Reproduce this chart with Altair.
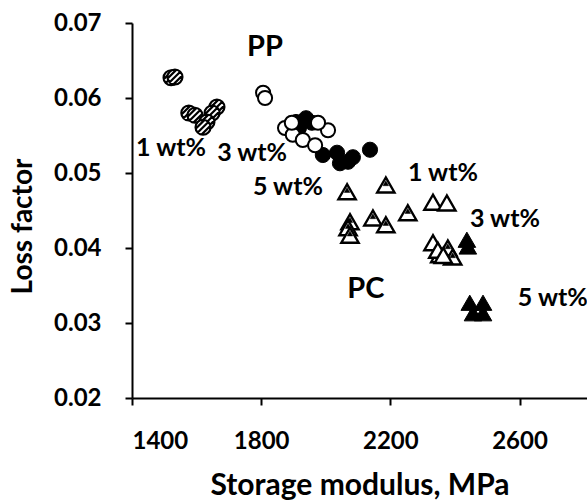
import altair as alt
import pandas as pd

# ---- data ----
pp1_x = [1521, 1533, 1576, 1595, 1663, 1648, 1632, 1620]
pp1_y = [0.0627, 0.0628, 0.0580, 0.0577, 0.0588, 0.0580, 0.0568, 0.0561]

pp3_x = [1806, 1812, 1874, 1898, 1929, 1967, 2007, 1976, 1895]
pp3_y = [0.0607, 0.0600, 0.0560, 0.0551, 0.0544, 0.0537, 0.0557, 0.0567, 0.0567]

pp5_x = [1908, 1939, 1957, 1917, 1991, 2035, 2044, 2084, 2137, 2069]
pp5_y = [0.0568, 0.0573, 0.0567, 0.0560, 0.0524, 0.0527, 0.0513, 0.0521, 0.0531, 0.0515]

pc1_x = [2066, 2186, 2075, 2069, 2075, 2146, 2186, 2254, 2378, 2393]
pc1_y = [0.0475, 0.0484, 0.0435, 0.0427, 0.0417, 0.0440, 0.0431, 0.0447, 0.0400, 0.0388]

pc3_x = [2332, 2375, 2332, 2353, 2347, 2364]
pc3_y = [0.0461, 0.0460, 0.0407, 0.0391, 0.0397, 0.0390]

pc5_x = [2437, 2440, 2446, 2487, 2456, 2487]
pc5_y = [0.0411, 0.0402, 0.0327, 0.0327, 0.0313, 0.0313]

label_text = ["PP", "1 wt%", "3 wt%", "5 wt%", "1 wt%", "3 wt%", "PC", "5 wt%"]
label_x = [1812, 1521, 1772, 1883, 2363, 2555, 2124, 2703]
label_y = [0.0668, 0.0533, 0.0527, 0.0481, 0.0500, 0.0439, 0.0345, 0.0333]
label_big = [True, False, False, False, False, False, True, False]

x_ticks = [1400, 1800, 2200, 2600]
y_ticks = [0.02, 0.03, 0.04, 0.05, 0.06, 0.07]

FONT = "Lato"

def frame(xs, ys):
    return pd.DataFrame({"x": xs, "y": ys})

xscale = alt.Scale(domain=[1400, 2809], nice=False, zero=False)
yscale = alt.Scale(domain=[0.02, 0.07], nice=False, zero=False)

X = alt.X("x:Q", scale=xscale,
          axis=alt.Axis(values=x_ticks, title="Storage modulus, MPa", format="d",
                        titleFontSize=30))
Y = alt.Y("y:Q", scale=yscale,
          axis=alt.Axis(values=y_ticks, title="Loss factor", format=".2f", titleY=203))

CIRCLE = "M-1,0A1,1,0,1,0,1,0A1,1,0,1,0,-1,0Z"
HATCH_CIRCLE = (CIRCLE +
                "M0.707,-0.707L-0.707,0.707"
                "M0.98,-0.2L-0.2,0.98"
                "M0.2,-0.98L-0.98,0.2")
TRI_TOP = "M0,-0.5L-0.32,0.08L0.32,0.08Z"

pp1 = alt.Chart(frame(pp1_x, pp1_y)).mark_point(
    shape=HATCH_CIRCLE, size=225, filled=True, fill="white", stroke="black",
    strokeWidth=2.2, opacity=1).encode(x=X, y=Y)
pp3 = alt.Chart(frame(pp3_x, pp3_y)).mark_point(
    shape="circle", size=200, fill="white", filled=True, stroke="black",
    strokeWidth=2, opacity=1).encode(x=X, y=Y)
pp5 = alt.Chart(frame(pp5_x, pp5_y)).mark_point(
    shape="circle", size=230, filled=True, fill="black", stroke="black",
    strokeWidth=1, opacity=1).encode(x=X, y=Y)
pc1 = alt.Chart(frame(pc1_x, pc1_y)).mark_point(
    shape="triangle-up", size=300, filled=True, fill="white", stroke="black",
    strokeWidth=2.4, opacity=1).encode(x=X, y=Y)
pc1_in = alt.Chart(frame(pc1_x, pc1_y)).mark_point(
    shape=TRI_TOP, size=300, filled=True, fill="black", stroke="black",
    strokeWidth=0.5, opacity=1).encode(x=X, y=Y)
pc3 = alt.Chart(frame(pc3_x, pc3_y)).mark_point(
    shape="triangle-up", size=300, filled=True, fill="white", stroke="black",
    strokeWidth=2.4, opacity=1).encode(x=X, y=Y)
pc5 = alt.Chart(frame(pc5_x, pc5_y)).mark_point(
    shape="triangle-up", size=310, filled=True, fill="black", stroke="black",
    strokeWidth=1, opacity=1).encode(x=X, y=Y)

labels = pd.DataFrame({"t": label_text, "x": label_x, "y": label_y, "big": label_big})
txt_small = alt.Chart(labels[~labels.big]).mark_text(
    font=FONT, fontWeight="bold", fontSize=25, color="black",
    align="center", baseline="middle").encode(x=X, y=Y, text="t:N")
txt_big = alt.Chart(labels[labels.big]).mark_text(
    font=FONT, fontWeight="bold", fontSize=29, color="black",
    align="center", baseline="middle").encode(x=X, y=Y, text="t:N")

chart = alt.layer(pp5, pp3, pp1, pc1, pc1_in, pc3, pc5, txt_small, txt_big).properties(
    width=455, height=375,
    autosize=alt.AutoSizeParams(type="none"),
    padding={"left": 132, "top": 23, "right": 0, "bottom": 106},
).configure_view(stroke=None).configure_axis(
    grid=False, domainColor="black", domainWidth=2, tickColor="black",
    tickWidth=2, tickSize=7, labelFont=FONT, labelFontWeight="bold",
    labelFontSize=24, labelColor="black", titleFont=FONT, titleFontWeight="bold",
    titleFontSize=28, titleColor="black", labelPadding=24,
).configure_axisY(titlePadding=16).configure_axisX(titlePadding=17)

chart.save("out.html", embed_options={"renderer": "svg", "actions": False})
